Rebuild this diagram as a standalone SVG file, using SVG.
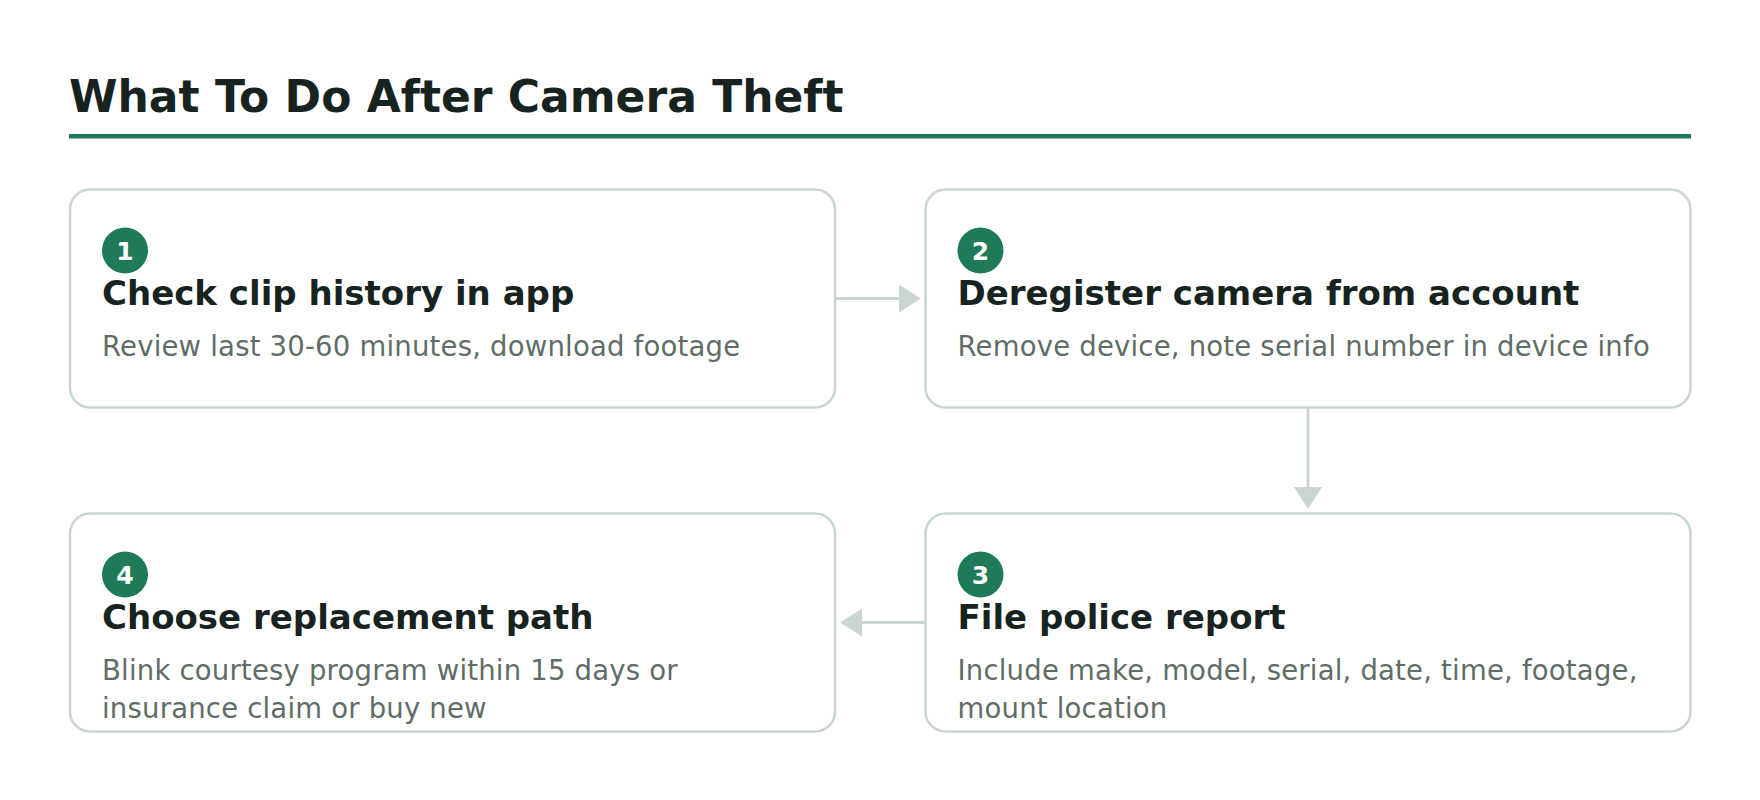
<svg xmlns="http://www.w3.org/2000/svg" width="1760" height="800" viewBox="0 0 1760 800">
  <defs>
    <style>
      .title { font-family: "DejaVu Sans", "Liberation Sans", sans-serif; font-weight: bold; font-size: 44px; fill: #17231f; }
      .card { fill: #ffffff; stroke: #c9d6d0; stroke-width: 2.5; }
      .badge { fill: #1e7a57; }
      .num { font-family: "DejaVu Sans", "Liberation Sans", sans-serif; font-weight: bold; font-size: 25px; fill: #ffffff; text-anchor: middle; }
      .head { font-family: "DejaVu Sans", "Liberation Sans", sans-serif; font-weight: bold; font-size: 34px; fill: #17231f; }
      .desc { font-family: "DejaVu Sans", "Liberation Sans", sans-serif; font-size: 27.5px; letter-spacing: 0.2px; fill: #5f6d67; }
      .conn { stroke: #c9d6d0; stroke-width: 3; fill: none; marker-end: url(#arrow); }
    </style>
    <marker id="arrow" viewBox="0 -14 22 28" refX="0" refY="0" markerWidth="22" markerHeight="28" markerUnits="userSpaceOnUse" orient="auto">
      <path d="M0,-14 L22,0 L0,14 z" fill="#c9d6d0"/>
    </marker>
  </defs>
  <rect width="1760" height="800" fill="#ffffff"/>

  <g id="header">
    <text class="title" x="69" y="112">What To Do After Camera Theft</text>
    <rect x="69" y="134" width="1622" height="4.5" fill="#1e7a57"/>
  </g>

  <g id="connectors">
    <line class="conn" x1="835" y1="298.5" x2="899" y2="298.5"/>
    <line class="conn" x1="1308" y1="407.5" x2="1308" y2="487"/>
    <line class="conn" x1="925.5" y1="622.5" x2="862" y2="622.5"/>
  </g>

  <g id="step1">
    <rect class="card" x="70" y="189.5" width="765" height="218" rx="20"/>
    <circle class="badge" cx="125" cy="250.5" r="23"/>
    <text class="num" x="125" y="259.5">1</text>
    <text class="head" x="102" y="304.5">Check clip history in app</text>
    <text class="desc" x="102" y="356">Review last 30-60 minutes, download footage</text>
  </g>

  <g id="step2">
    <rect class="card" x="925.5" y="189.5" width="765" height="218" rx="20"/>
    <circle class="badge" cx="980.5" cy="250.5" r="23"/>
    <text class="num" x="980.5" y="259.5">2</text>
    <text class="head" x="957.5" y="304.5">Deregister camera from account</text>
    <text class="desc" x="957.5" y="356">Remove device, note serial number in device info</text>
  </g>

  <g id="step3">
    <rect class="card" x="925.5" y="513.5" width="765" height="218" rx="20"/>
    <circle class="badge" cx="980.5" cy="574.5" r="23"/>
    <text class="num" x="980.5" y="583.5">3</text>
    <text class="head" x="957.5" y="628.5">File police report</text>
    <text class="desc" x="957.5" y="680">Include make, model, serial, date, time, footage,</text>
    <text class="desc" x="957.5" y="718">mount location</text>
  </g>

  <g id="step4">
    <rect class="card" x="70" y="513.5" width="765" height="218" rx="20"/>
    <circle class="badge" cx="125" cy="574.5" r="23"/>
    <text class="num" x="125" y="583.5">4</text>
    <text class="head" x="102" y="628.5">Choose replacement path</text>
    <text class="desc" x="102" y="680">Blink courtesy program within 15 days or</text>
    <text class="desc" x="102" y="718">insurance claim or buy new</text>
  </g>
</svg>
